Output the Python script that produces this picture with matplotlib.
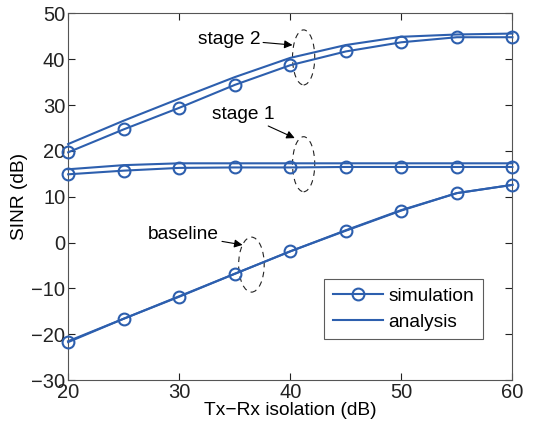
import matplotlib
matplotlib.use('Agg')
import matplotlib.pyplot as plt
from matplotlib.patches import Ellipse

plt.rcParams['font.family'] = ['Liberation Sans', 'DejaVu Sans']

isolation = [20, 25, 30, 35, 40, 45, 50, 55, 60]

stage2_sim = [19.7, 24.7, 29.4, 34.4, 38.7, 41.7, 43.7, 44.8, 44.8]
stage2_ana = [21.5, 26.6, 31.4, 36.1, 40.3, 43.1, 44.9, 45.4, 45.6]
stage1_sim = [14.9, 15.7, 16.3, 16.4, 16.4, 16.5, 16.5, 16.5, 16.5]
stage1_ana = [16.0, 16.9, 17.3, 17.3, 17.3, 17.3, 17.3, 17.3, 17.3]
base_sim = [-21.7, -16.6, -11.8, -6.8, -1.9, 2.6, 7.0, 10.8, 12.6]
base_ana = [-21.5, -16.6, -11.7, -6.8, -1.9, 2.7, 7.1, 10.8, 12.6]

blue = '#2d5fae'

fig = plt.figure(figsize=(5.54, 4.32), dpi=100)
ax = fig.add_axes([0.123, 0.12, 0.802, 0.849])

for sim, ana in [(stage2_sim, stage2_ana), (stage1_sim, stage1_ana), (base_sim, base_ana)]:
  l1, = ax.plot(isolation, sim, '-o', color=blue, lw=1.5, ms=8.5, mew=1.5,
                mfc='none', clip_on=False, zorder=3)
  l2, = ax.plot(isolation, ana, '-', color=blue, lw=1.5, clip_on=False, zorder=3)

# dashed ellipses and labels
for cx, cy, w in [(41.2, 40.4, 2.0), (41.2, 17.1, 2.0), (36.5, -4.8, 2.3)]:
  ax.add_patch(Ellipse((cx, cy), w, 12, fill=False, ls=(0, (5, 4)), lw=0.8, color='#222222'))

arrow = dict(arrowstyle='-|>', color='black', lw=0.8, mutation_scale=12, shrinkA=0, shrinkB=0)
ax.annotate('stage 2', xy=(40.2, 43.1), xytext=(37.3, 44.3), fontsize=13.8,
            ha='right', va='center', arrowprops=arrow)
ax.annotate('stage 1', xy=(40.4, 22.8), xytext=(38.6, 27.9), fontsize=13.8,
            ha='right', va='center', arrowprops=arrow)
ax.annotate('baseline', xy=(35.7, -0.5), xytext=(33.6, 1.7), fontsize=13.8,
            ha='right', va='center', arrowprops=arrow)

ax.set_xlim(20, 60)
ax.set_ylim(-30, 50)
ax.set_xticks([20, 30, 40, 50, 60])
ax.set_yticks(range(-30, 51, 10))
ax.tick_params(direction='in', top=True, right=True, labelsize=14.5, length=5, width=0.8,
               colors='#222222', pad=2)
for s in ax.spines.values():
  s.set_color('#555555')
  s.set_linewidth(0.8)

ax.set_xlabel('Tx\u2212Rx isolation (dB)', fontsize=13.8, labelpad=0)
ax.set_ylabel('SINR (dB)', fontsize=13.8, labelpad=2)

leg = ax.legend((l1, l2), ('simulation', 'analysis'), loc='lower right',
                bbox_to_anchor=(0.955, 0.085), fontsize=13.8, fancybox=False,
                edgecolor='#333333', handlelength=2.6, borderpad=0.45,
                labelspacing=0.45, handletextpad=0.3)
leg.get_frame().set_linewidth(0.8)

fig.savefig('out.png', dpi=100)
